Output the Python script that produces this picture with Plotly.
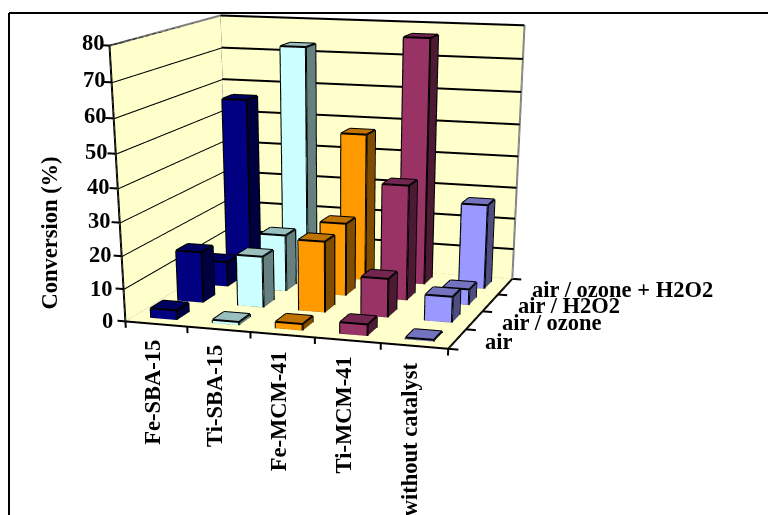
import plotly.graph_objects as go

# Conversion (%) per catalyst, one list for each reaction atmosphere
catalysts = ["Fe-SBA-15", "Ti-SBA-15", "Fe-MCM-41", "Ti-MCM-41", "without catalyst"]
atmospheres = ["air", "air / ozone", "air / H2O2", "air / ozone + H2O2"]
conv_air = [3, 1, 2, 3.5, 0.5]
conv_ozone = [16, 16, 22, 12, 8]
conv_h2o2 = [8, 18, 23, 36, 5]
conv_ozone_h2o2 = [56, 73, 47, 77, 27]
ticks_z = [0, 10, 20, 30, 40, 50, 60, 70, 80]

# Bar shading per catalyst: lit front, mid-tone top, dark side
front = ["#000080", "#CCFFFF", "#FF9900", "#993366", "#9999FF"]
top = ["#000060", "#99BFBF", "#BF7300", "#732650", "#7373BF"]
side = ["#000040", "#668080", "#804D00", "#4D1A33", "#4D4D80"]
WALL = "#FFFFCC"

XR, YR, ZR = (-0.5, 5.5), (-0.5, 4.5), (-5, 85)
HW, HD = 0.21, 0.22

# A tall canvas keeps the perspective of the fixed 45 degree lens gentle;
# the lower part simply runs past the window.
FW, FH = 768, 1400
SCENE_RIGHT = 670 / FW
EYE = dict(x=2.010, y=-6.327, z=1.179)
CENTER = dict(x=0.031, y=0, z=-2.262)
ASPECT = dict(x=1.5, y=1.365, z=1.096)

rows = [conv_air, conv_ozone, conv_h2o2, conv_ozone_h2o2]

vx, vy, vz, I, J, K, fc = [], [], [], [], [], [], []
ex, ey, ez = [], [], []


def box(x0, x1, y0, y1, z1, ci):
    """Append one bar as six coloured faces plus its twelve outline edges."""
    n = len(vx)
    for z in (0, z1):
        for y in (y0, y1):
            for x in (x0, x1):
                vx.append(x)
                vy.append(y)
                vz.append(z)
    faces = [((0, 1, 5, 4), front), ((2, 3, 7, 6), front), ((0, 2, 6, 4), front),
             ((1, 3, 7, 5), side), ((4, 5, 7, 6), top), ((0, 1, 3, 2), top)]
    for (a, b, c, d), col in faces:
        for t in ((a, b, c), (a, c, d)):
            I.append(n + t[0])
            J.append(n + t[1])
            K.append(n + t[2])
            fc.append(col[ci])
    edges = [(0, 1), (1, 3), (3, 2), (2, 0), (4, 5), (5, 7), (7, 6), (6, 4),
             (0, 4), (1, 5), (2, 6), (3, 7)]
    for a, b in edges:
        for q in (a, b):
            ex.append(vx[n + q])
            ey.append(vy[n + q])
            ez.append(vz[n + q])
        ex.append(None)
        ey.append(None)
        ez.append(None)


for r, row in enumerate(rows):
    for c, val in enumerate(row):
        box(c + .5 - HW, c + .5 + HW, r + .5 - HD, r + .5 + HD, val, c)


def seg(lines, a, b):
    for q in range(3):
        lines[q] += [a[q], b[q], None]


grid, black, gray = [[], [], []], [[], [], []], [[], [], []]
for t in ticks_z[1:]:
    seg(grid, (0, 0, t), (0, 3.99, t))
    seg(grid, (0, 3.99, t), (5, 3.99, t))
for t in ticks_z:
    seg(black, (-0.13, 0, t), (0, 0, t))
seg(black, (0, 0, 0), (0, 0, 80))
seg(black, (0, 0, 0), (5, 0, 0))
seg(black, (5, 0, 0), (5, 4, 0))
for i in range(6):
    seg(black, (i, 0, 0), (i, 0, -2))
for j in range(5):
    seg(black, (5, j, 0), (5.15, j, 0))
for a, b in [((0, 0, 0), (0, 4, 0)), ((0, 4, 0), (5, 4, 0)), ((0, 0, 80), (0, 4, 80)),
             ((0, 4, 80), (5, 4, 80)), ((0, 4, 0), (0, 4, 80)), ((5, 4, 0), (5, 4, 80))]:
    seg(gray, a, b)

# Left wall, back wall and floor
wx = [0, 0, 0, 0, 0, 5, 5, 0, 0, 5, 5, 0]
wy = [0, 4, 4, 0, 4, 4, 4, 4, 0, 0, 4, 4]
wz = [0, 0, 80, 80, 0, 0, 80, 80, 0, 0, 0, 0]
wi, wj, wk = [0, 0, 4, 4, 8, 8], [1, 2, 5, 6, 9, 10], [2, 3, 6, 7, 10, 11]

flat = dict(ambient=1, diffuse=0, specular=0, fresnel=0, roughness=1)
fig = go.Figure()
fig.add_trace(go.Mesh3d(x=wx, y=wy, z=wz, i=wi, j=wj, k=wk, color=WALL, lighting=flat, hoverinfo="skip"))
fig.add_trace(go.Mesh3d(x=vx, y=vy, z=vz, i=I, j=J, k=K, facecolor=fc, flatshading=True,
                        lighting=flat, hoverinfo="skip"))
for L, col in ((grid, "black"), (black, "black"), (gray, "#808080"), ((ex, ey, ez), "black")):
    fig.add_trace(go.Scatter3d(x=L[0], y=L[1], z=L[2], mode="lines", line=dict(color=col, width=4),
                               hoverinfo="skip", showlegend=False))

font = dict(family="Liberation Serif", size=22.5, color="black")
ann = [dict(x=-0.13, y=0, z=t, text=f"<b>{t}</b>", showarrow=False, xanchor="right",
            xshift=t / 10 - 2, yshift=t * 3 / 80, font=font) for t in ticks_z]
ann += [dict(x=i + .5, y=0, z=0, text=f"<b>{n}</b>", showarrow=False, textangle=-90, yanchor="top",
             xshift=-4, yshift=-14, font=font) for i, n in enumerate(catalysts)]
ann += [dict(x=5.15, y=j + .5, z=0, text=f"<b>{n}</b>", showarrow=False, xanchor="left",
             xshift=16, yshift=-2, font=font) for j, n in enumerate(atmospheres)]

fig.update_layout(
    width=FW, height=FH, margin=dict(l=0, r=0, t=0, b=0), showlegend=False, paper_bgcolor="white",
    scene=dict(
        domain=dict(x=[0, SCENE_RIGHT], y=[0, 1]), aspectmode="manual", aspectratio=ASPECT,
        camera=dict(eye=EYE, center=CENTER, up=dict(x=0, y=0, z=1)),
        xaxis=dict(visible=False, range=XR), yaxis=dict(visible=False, range=YR),
        zaxis=dict(visible=False, range=ZR), annotations=ann),
    annotations=[dict(text="<b>Conversion (%)</b>", xref="paper", yref="paper", x=35 / FW, y=1 - 233 / FH,
                      yanchor="middle", showarrow=False, textangle=-90, font=font)],
    shapes=[dict(type="line", xref="paper", yref="paper", x0=9 / FW, x1=1, y0=1 - 13 / FH, y1=1 - 13 / FH,
                 line=dict(color="black", width=2)),
            dict(type="line", xref="paper", yref="paper", x0=9 / FW, x1=9 / FW, y0=0, y1=1 - 13 / FH,
                 line=dict(color="black", width=2))])
fig.write_html("out.html", config=dict(displayModeBar=False))
